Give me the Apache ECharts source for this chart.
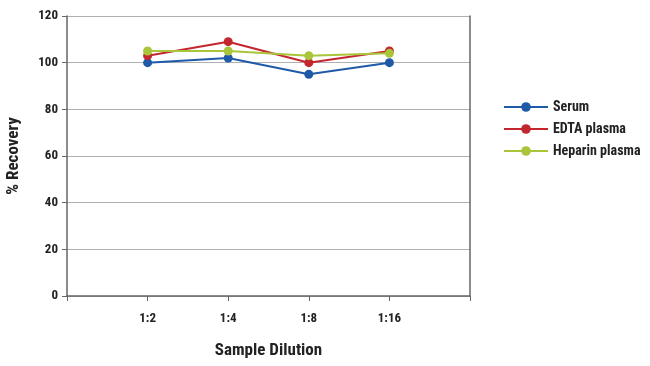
<!DOCTYPE html>
<html><head><meta charset="utf-8">
<script src="https://cdn.jsdelivr.net/npm/echarts@6/dist/echarts.min.js"></script>
<style>html,body{margin:0;padding:0;background:#fff}#c{width:650px;height:366px}</style>
</head><body><div id="c"></div>
<script>
const categories = ['1:2', '1:4', '1:8', '1:16'];
const serum = [100, 102, 95, 100];
const edta = [103, 109, 100, 105];
const heparin = [105, 105, 103, 104];
const seriesNames = ['Serum', 'EDTA plasma', 'Heparin plasma'];
const colors = ['#1f5aa8', '#c4262e', '#a9c539'];

const FONT = '"Liberation Sans Narrow", "Roboto Condensed", "DejaVu Sans Condensed", sans-serif';
const toPts = arr => arr.map((v, i) => [i + 1, v]);

const chart = echarts.init(document.getElementById('c'), null, {renderer: 'canvas'});
const mk = (name, data, color) => ({
  name, type: 'line', data: toPts(data),
  symbol: 'circle', symbolSize: 9,
  lineStyle: {color, width: 2},
  itemStyle: {color},
  z: 3
});
chart.setOption({
  animation: false,
  textStyle: {fontFamily: FONT},
  grid: {left: 67, right: 180, top: 16, bottom: 70, containLabel: false, outerBoundsMode: 'none'},
  legend: {
    orient: 'vertical', left: 498, top: 95, itemGap: 8, itemWidth: 44, itemHeight: 12,
    data: seriesNames,
    textStyle: {fontFamily: FONT, fontWeight: 'bold', fontSize: 14, color: '#222'}
  },
  xAxis: {
    type: 'value', min: 0, max: 5, interval: 1,
    name: 'Sample Dilution', nameLocation: 'middle', nameGap: 46,
    nameTextStyle: {fontFamily: FONT, fontWeight: 'bold', fontSize: 17, color: '#222'},
    axisLine: {show: true, lineStyle: {color: '#666', width: 1.5}},
    axisTick: {show: true, length: 5, lineStyle: {color: '#666'}},
    splitLine: {show: false},
    axisLabel: {
      fontFamily: FONT, fontWeight: 'bold', fontSize: 13, color: '#222', margin: 16,
      formatter: v => (v >= 1 && v <= categories.length) ? categories[v - 1] : ''
    }
  },
  yAxis: [{
    type: 'value', min: 0, max: 120, interval: 20,
    name: '% Recovery', nameLocation: 'middle', nameGap: 45, nameRotate: 90,
    nameTextStyle: {fontFamily: FONT, fontWeight: 'bold', fontSize: 17, color: '#222'},
    axisLine: {show: true, lineStyle: {color: '#666', width: 1.5}},
    axisTick: {show: true, length: 5, lineStyle: {color: '#666'}},
    splitLine: {show: true, lineStyle: {color: '#b0b0b0', width: 1.2}},
    axisLabel: {fontFamily: FONT, fontWeight: 'bold', fontSize: 13, color: '#222', margin: 9}
  }, {
    type: 'value', min: 0, max: 120, interval: 20, position: 'right',
    axisLine: {show: true, lineStyle: {color: '#666', width: 1.5}},
    axisTick: {show: false}, axisLabel: {show: false}, splitLine: {show: false}
  }],
  series: [mk(seriesNames[0], serum, colors[0]), mk(seriesNames[1], edta, colors[1]), mk(seriesNames[2], heparin, colors[2])]
});
</script></body></html>
